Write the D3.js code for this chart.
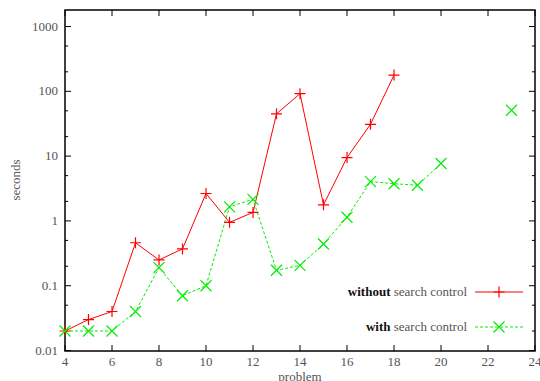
<!DOCTYPE html>
<html>
<head>
<meta charset="utf-8">
<script src="https://cdn.jsdelivr.net/npm/d3@7"></script>
<style>
  body { margin: 0; background: #fff; }
</style>
</head>
<body>
<script>
// problem numbers and timings (seconds)
var problemsWithout = [4, 5, 6, 7, 8, 9, 10, 11, 12, 13, 14, 15, 16, 17, 18];
var secondsWithout = [0.02, 0.03, 0.04, 0.46, 0.25, 0.37, 2.65, 0.95, 1.35, 45, 92, 1.77, 9.5, 31, 178];

var problemsWith = [4, 5, 6, 7, 8, 9, 10, 11, 12, 13, 14, 15, 16, 17, 18, 19, 20, 23];
var secondsWith = [0.02, 0.02, 0.02, 0.04, 0.19, 0.07, 0.1, 1.65, 2.15, 0.173, 0.206, 0.44, 1.14, 4.05, 3.75, 3.55, 7.7, 51];

var xTicks = [4, 6, 8, 10, 12, 14, 16, 18, 20, 22, 24];
var yTicks = [0.01, 0.1, 1, 10, 100, 1000];
var yTickLabels = ["0.01", "0.1", "1", "10", "100", "1000"];

var FONT = "'Liberation Serif', 'Times New Roman', 'DejaVu Serif', serif";

const margin = {top: 10, right: 5, bottom: 30, left: 65},
    width = 540 - margin.left - margin.right,
    height = 381 - margin.top - margin.bottom;

var svg = d3.select("body")
    .append("svg")
    .attr("width", 540)
    .attr("height", 381)
    .attr("font-family", FONT);

var g = svg.append("g")
    .attr("transform", "translate(" + margin.left + "," + margin.top + ")");

var x = d3.scaleLinear()
    .domain([4, 24])
    .range([0, width]);

var y = d3.scaleLog()
    .domain([0.01, 1800])
    .range([height - 0.5, 0]);

// minor ticks 2 and 5 each decade
var minor = [];
for (var p = -2; p <= 3; p++) {
    [2, 5].forEach(function(m) {
        var v = m * Math.pow(10, p);
        if (v < 1800) minor.push(v);
    });
}

// tick marks (inward, mirrored on the opposite side)
var ticks = g.append("g").attr("stroke", "#000").attr("stroke-width", 1);
xTicks.forEach(function(t) {
    ticks.append("line").attr("x1", x(t)).attr("x2", x(t)).attr("y1", height).attr("y2", height - 6);
    ticks.append("line").attr("x1", x(t)).attr("x2", x(t)).attr("y1", 0).attr("y2", 6);
});
yTicks.forEach(function(t) {
    ticks.append("line").attr("x1", 0).attr("x2", 6).attr("y1", y(t)).attr("y2", y(t));
    ticks.append("line").attr("x1", width).attr("x2", width - 6).attr("y1", y(t)).attr("y2", y(t));
});
minor.forEach(function(t) {
    ticks.append("line").attr("x1", 0).attr("x2", 3).attr("y1", y(t)).attr("y2", y(t));
    ticks.append("line").attr("x1", width).attr("x2", width - 3).attr("y1", y(t)).attr("y2", y(t));
});

// border
g.append("rect")
    .attr("x", 0).attr("y", 0)
    .attr("width", width).attr("height", height)
    .attr("fill", "none")
    .attr("stroke", "#000")
    .attr("stroke-width", 1.5);

// tick labels
g.selectAll(".xlab")
    .data(xTicks)
    .enter().append("text")
    .attr("x", function(d) { return x(d); })
    .attr("y", height + 15)
    .attr("text-anchor", "middle")
    .attr("fill", "#555")
    .style("font-size", "13px")
    .text(function(d) { return d; });

g.selectAll(".ylab")
    .data(yTicks)
    .enter().append("text")
    .attr("x", -7)
    .attr("y", function(d) { return y(d) + 4; })
    .attr("text-anchor", "end")
    .attr("fill", "#555")
    .style("font-size", "13px")
    .text(function(d, i) { return yTickLabels[i]; });

// axis titles
svg.append("text")
    .attr("x", margin.left + x(14))
    .attr("y", 381)
    .attr("text-anchor", "middle")
    .attr("fill", "#555")
    .style("font-size", "13px")
    .text("problem");

svg.append("text")
    .attr("transform", "translate(20,180) rotate(-90)")
    .attr("text-anchor", "middle")
    .attr("fill", "#555")
    .style("font-size", "13px")
    .text("seconds");

// series lines
var line = d3.line()
    .x(function(d) { return x(d[0]); })
    .y(function(d) { return y(d[1]); });

var dataWithout = problemsWithout.map(function(p, i) { return [p, secondsWithout[i]]; });
var dataWith = problemsWith.map(function(p, i) { return [p, secondsWith[i]]; });

// green line is broken where problems are missing
var segments = [];
dataWith.forEach(function(d, i) {
    if (i === 0 || d[0] - dataWith[i - 1][0] > 1) segments.push([]);
    segments[segments.length - 1].push(d);
});

g.append("path")
    .datum(dataWithout)
    .attr("d", line)
    .attr("fill", "none")
    .attr("stroke", "#ff0000")
    .attr("stroke-width", 1);

segments.forEach(function(s) {
    g.append("path")
        .datum(s)
        .attr("d", line)
        .attr("fill", "none")
        .attr("stroke", "#00ee00")
        .attr("stroke-width", 1)
        .attr("stroke-dasharray", "3,2");
});

function plus(sel, cx, cy, color) {
    sel.append("path")
        .attr("d", "M" + (cx - 5.5) + "," + cy + "H" + (cx + 5.5) + "M" + cx + "," + (cy - 5.5) + "V" + (cy + 5.5))
        .attr("stroke", color).attr("stroke-width", 1.2).attr("fill", "none");
}
function cross(sel, cx, cy, color) {
    sel.append("path")
        .attr("d", "M" + (cx - 5.5) + "," + (cy - 5.5) + "L" + (cx + 5.5) + "," + (cy + 5.5) + "M" + (cx - 5.5) + "," + (cy + 5.5) + "L" + (cx + 5.5) + "," + (cy - 5.5))
        .attr("stroke", color).attr("stroke-width", 1.2).attr("fill", "none");
}

dataWithout.forEach(function(d) { plus(g, x(d[0]), y(d[1]), "#ff0000"); });
dataWith.forEach(function(d) { cross(g, x(d[0]), y(d[1]), "#00ee00"); });

// legend
var legend = [
    {bold: "without", rest: " search control", color: "#ff0000", dash: null, mark: plus, yy: 292},
    {bold: "with", rest: " search control", color: "#00ee00", dash: "3,2", mark: cross, yy: 327}
];
legend.forEach(function(l) {
    var t = svg.append("text")
        .attr("x", 467)
        .attr("y", l.yy + 4)
        .attr("text-anchor", "end")
        .attr("fill", "#555")
        .style("font-size", "13px");
    t.append("tspan").style("font-weight", "bold").attr("fill", "#111").text(l.bold);
    t.append("tspan").text(l.rest);
    svg.append("line")
        .attr("x1", 475).attr("x2", 523)
        .attr("y1", l.yy).attr("y2", l.yy)
        .attr("stroke", l.color)
        .attr("stroke-width", 1)
        .attr("stroke-dasharray", l.dash);
    l.mark(svg, 499, l.yy, l.color);
});
</script>
</body>
</html>
